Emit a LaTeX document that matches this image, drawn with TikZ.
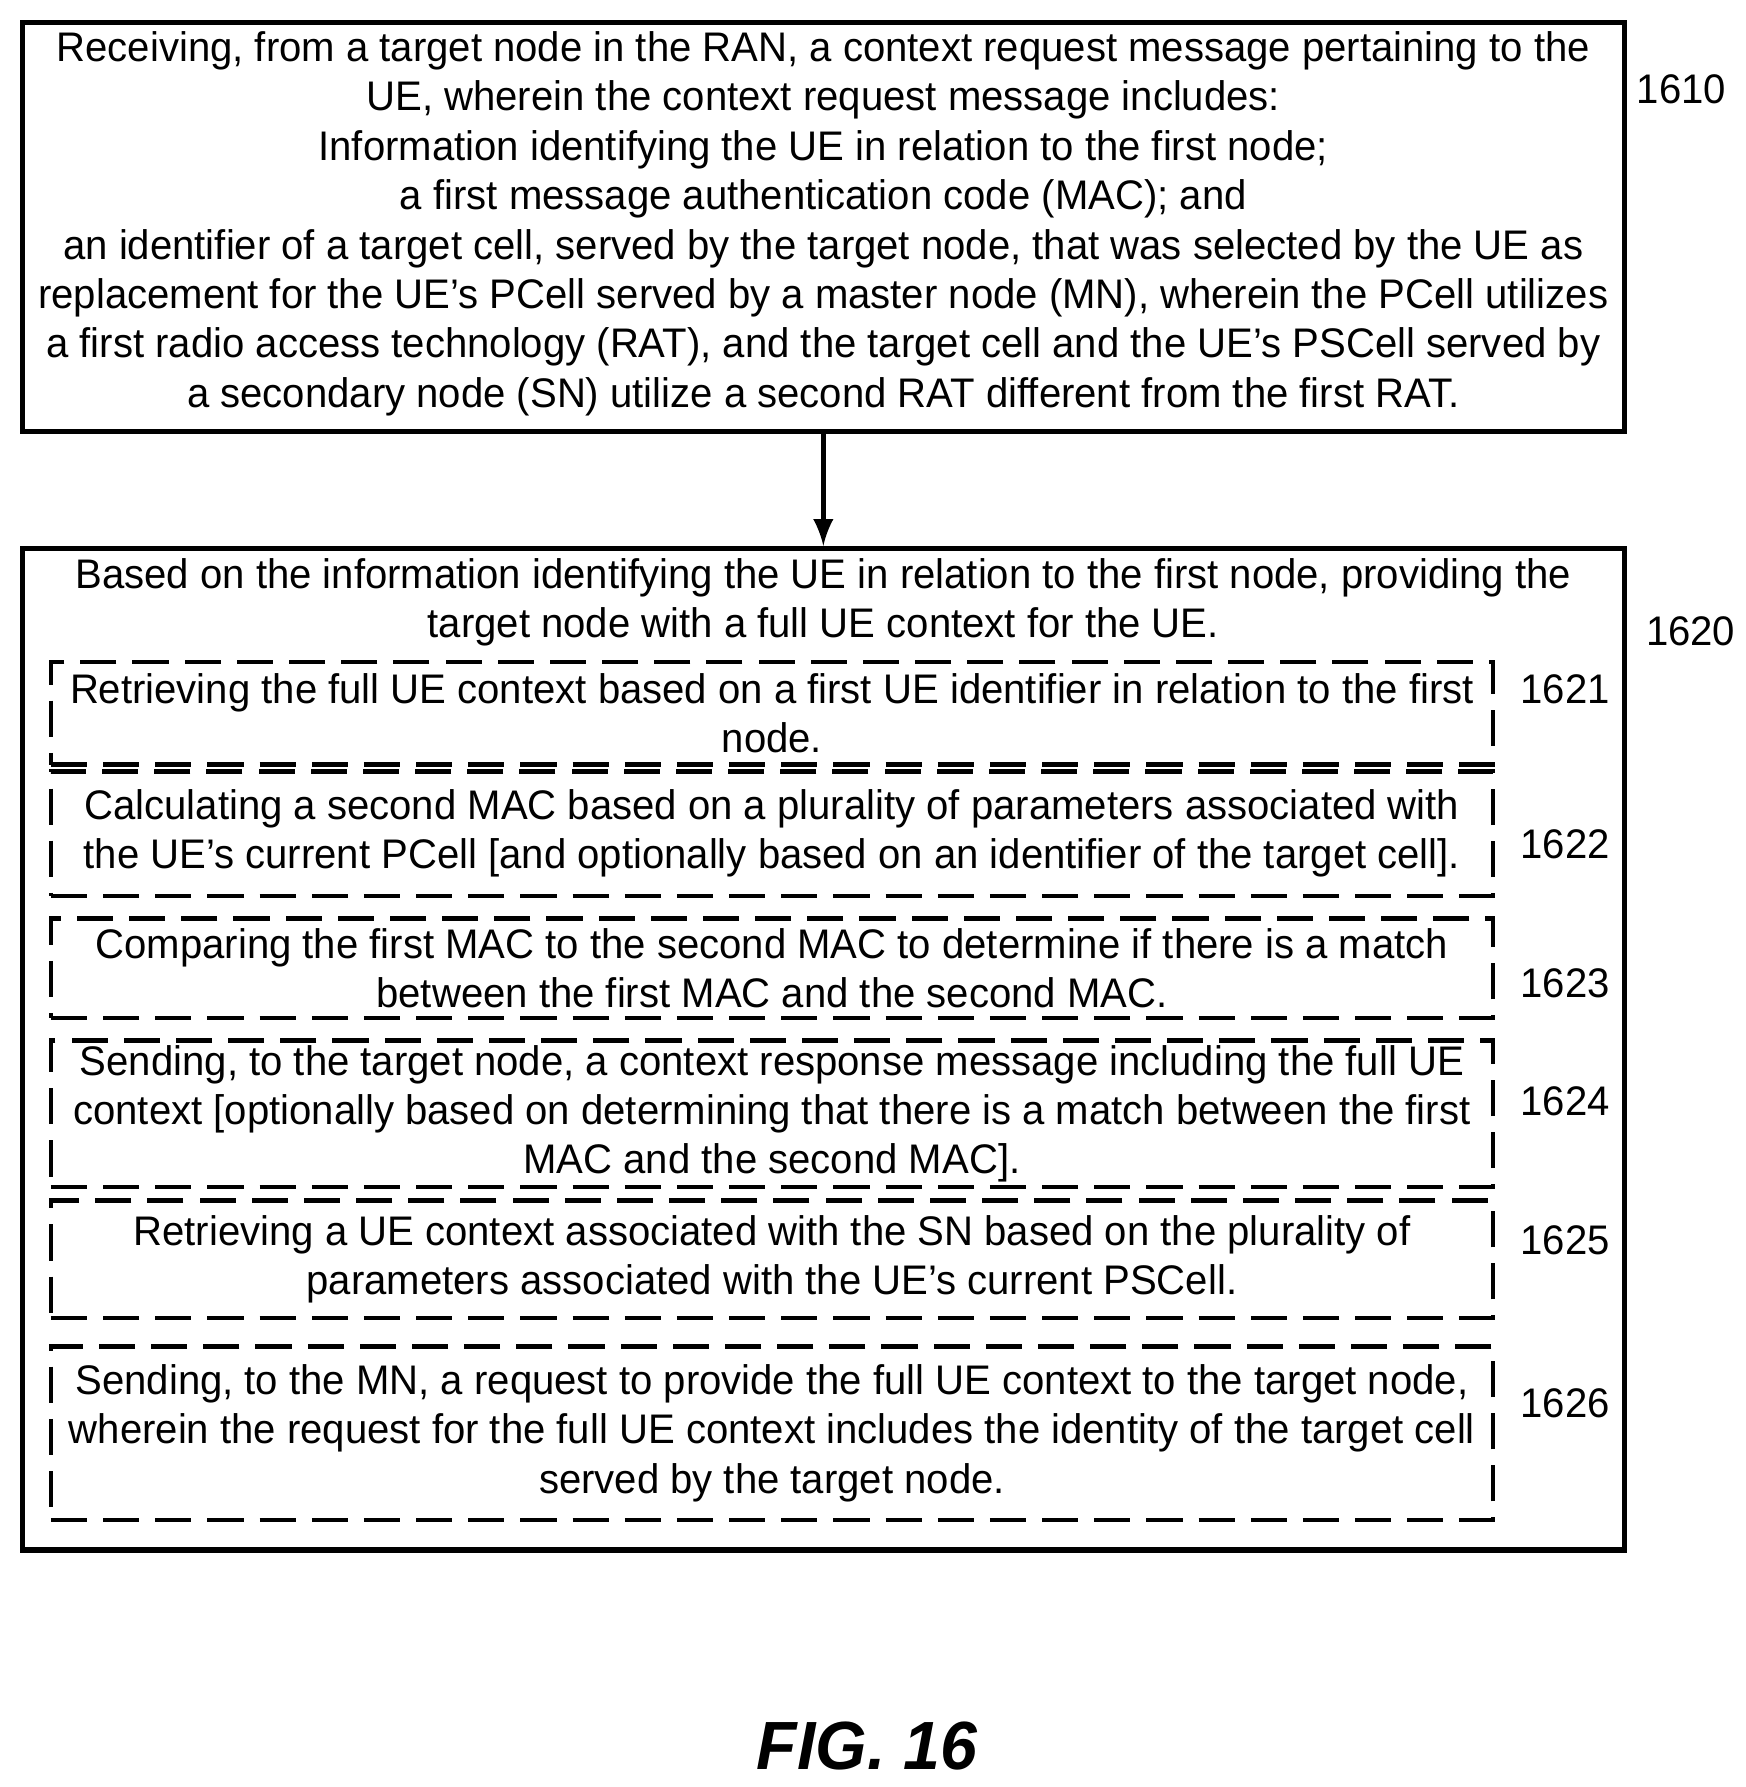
\documentclass[tikz,border=0pt]{standalone}
\usepackage{fontspec}
\setmainfont{Liberation Sans}[FakeStretch=0.97]
\usetikzlibrary{calc}
\begin{document}
\begin{tikzpicture}[x=0.01cm,y=-0.01cm,font=\fontsize{10.3}{12.3}\selectfont]
\tikzstyle{step box}=[draw,line width=1.3pt,minimum width=14.03cm,inner sep=0pt]
\tikzstyle{sub box}=[draw,line width=1.1pt,dash pattern=on 9pt off 4pt,minimum width=12.63cm,inner sep=0pt,align=center]
\tikzstyle{ref}=[anchor=west]
\useasboundingbox (0,0) rectangle (1530,1566);

% step 1610
\node(1610)[step box,minimum height=3.58cm] at (721.5,199) {};
\node[align=center] at (721.5,196) {Receiving, from a target node in the RAN, a context request message pertaining to the\\
UE, wherein the context request message includes:\\
Information identifying the UE in relation to the first node;\\
a first message authentication code (MAC); and\\
an identifier of a target cell, served by the target node, that was selected by the UE as\\
replacement for the UE's PCell served by a master node (MN), wherein the PCell utilizes\\
a first radio access technology (RAT), and the target cell and the UE's PSCell served by\\
a secondary node (SN) utilize a second RAT different from the first RAT.};
\node[ref] at (1422,78) {1610};

% step 1620
\node(1620)[step box,minimum height=8.77cm] at (721.5,919.5) {};
\node[align=center] at (721.5,528) {Based on the information identifying the UE in relation to the first node, providing the\\
target node with a full UE context for the UE.};
\node[ref] at (1430,553) {1620};
\draw[line width=1.3pt,-latex] (1610.south) -- (1620.north);

% sub-steps
\node(1621)[sub box,minimum height=0.90cm] at (676.5,625) {Retrieving the full UE context based on a first UE identifier in relation to the first\\ node.};
\node[ref] at (1320,604) {1621};
\node(1622)[sub box,minimum height=1.09cm] at (676.5,730.5) {Calculating a second MAC based on a plurality of parameters associated with\\ the UE's current PCell [and optionally based on an identifier of the target cell].};
\node[ref] at (1320,740) {1622};
\node(1623)[sub box,minimum height=0.87cm] at (676.5,848.5) {Comparing the first MAC to the second MAC to determine if there is a match\\ between the first MAC and the second MAC.};
\node[ref] at (1320,862) {1623};
\node(1624)[sub box,minimum height=1.28cm] at (676.5,976) {Sending, to the target node, a context response message including the full UE\\ context [optionally based on determining that there is a match between the first\\ MAC and the second MAC].};
\node[ref] at (1320,965) {1624};
\node(1625)[sub box,minimum height=1.03cm] at (676.5,1103.5) {Retrieving a UE context associated with the SN based on the plurality of\\ parameters associated with the UE's current PSCell.};
\node[ref] at (1320,1087) {1625};
\node(1626)[sub box,minimum height=1.52cm] at (676.5,1256) {Sending, to the MN, a request to provide the full UE context to the target node,\\ wherein the request for the full UE context includes the identity of the target cell\\ served by the target node.};
\node[ref] at (1320,1230) {1626};

\node(fig) at (760,1530) {\fontsize{17}{20}\selectfont\bfseries\itshape FIG. 16};
\end{tikzpicture}
\end{document}
